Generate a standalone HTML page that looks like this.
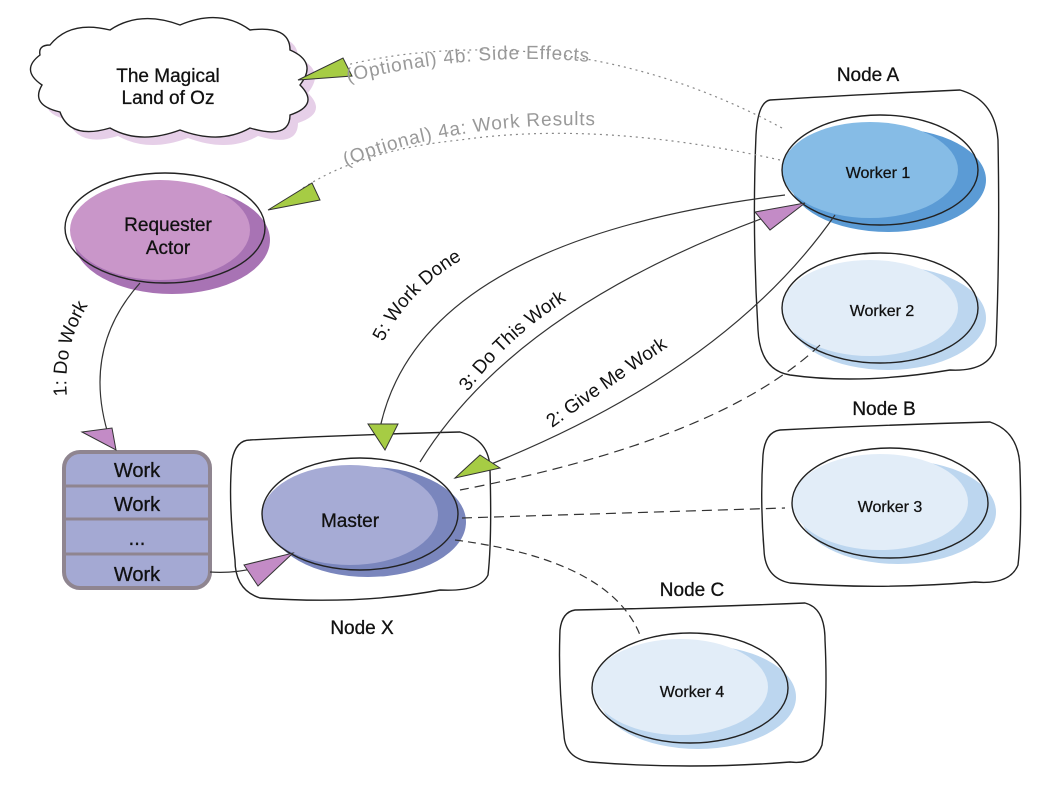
<!DOCTYPE html>
<html><head><meta charset="utf-8"><style>
html,body{margin:0;padding:0;background:#fff;width:1041px;height:792px;overflow:hidden}
svg{display:block}
text{font-family:"Liberation Sans",sans-serif}
</style></head><body>
<svg width="1041" height="792" viewBox="0 0 1041 792" xmlns="http://www.w3.org/2000/svg">
<defs>
<path id="p4b" d="M348,82 Q540,34 712,86"/>
<path id="p4a" d="M346,166 Q500,104 718,136"/>
<path id="p5" d="M383,342 Q420,270 505,240"/>
<path id="p3" d="M468,392 Q520,320 610,276"/>
<path id="p2" d="M552,428 Q630,372 705,322"/>
<path id="p1" d="M67,396 Q62,340 95,295"/>
</defs>

<!-- cloud -->
<path d="M50,45 Q70,20 110,30 Q140,10 180,25 Q220,8 250,30 Q290,25 290,50 Q318,62 300,85 Q320,105 290,115 Q290,140 250,128 Q220,145 180,130 Q140,145 110,128 Q70,140 60,112 Q30,105 42,85 Q20,70 40,55 Q38,45 50,45Z" fill="#e6cfe8" transform="translate(8,8)"/>
<path d="M50,45 Q70,20 110,30 Q140,10 180,25 Q220,8 250,30 Q290,25 290,50 Q318,62 300,85 Q320,105 290,115 Q290,140 250,128 Q220,145 180,130 Q140,145 110,128 Q70,140 60,112 Q30,105 42,85 Q20,70 40,55 Q38,45 50,45Z" fill="#fff" stroke="#222" stroke-width="1.4"/>
<text x="168" y="82" font-size="19" text-anchor="middle" fill="#111" stroke="#111" stroke-width="0.3">The Magical</text>
<text x="168" y="104" font-size="19" text-anchor="middle" fill="#111" stroke="#111" stroke-width="0.3">Land of Oz</text>

<!-- requester -->
<ellipse cx="172" cy="240" rx="98" ry="54" fill="#a873b4"/>
<ellipse cx="160" cy="230" rx="90" ry="50" fill="#c996c9"/>
<ellipse cx="165" cy="228" rx="100" ry="55" fill="none" stroke="#222" stroke-width="1.4"/>
<text x="168" y="231" font-size="19" text-anchor="middle" fill="#111" stroke="#111" stroke-width="0.3">Requester</text>
<text x="168" y="254" font-size="19" text-anchor="middle" fill="#111" stroke="#111" stroke-width="0.3">Actor</text>

<!-- work queue -->
<rect x="64" y="452" width="146" height="136" rx="16" fill="#a4a9d3" stroke="#8f8590" stroke-width="4"/>
<line x1="64" y1="486" x2="210" y2="486" stroke="#8f8590" stroke-width="3"/>
<line x1="64" y1="519" x2="210" y2="519" stroke="#8f8590" stroke-width="3"/>
<line x1="64" y1="554" x2="210" y2="554" stroke="#8f8590" stroke-width="3"/>
<g font-size="20" text-anchor="middle" fill="#111" stroke="#111" stroke-width="0.3">
<text x="137" y="477">Work</text><text x="137" y="511">Work</text><text x="137" y="545">...</text><text x="137" y="581">Work</text></g>

<!-- node boxes -->
<path d="M250,440 Q340,435 460,432 Q490,440 490,470 Q492,540 488,575 Q480,592 440,590 Q360,605 260,598 Q235,590 235,560 Q228,500 232,460 Q236,440 250,440Z" fill="none" stroke="#222" stroke-width="1.4"/>
<path d="M770,100 Q850,95 960,90 Q995,100 998,140 Q1000,250 996,345 Q990,372 950,370 Q860,385 790,375 Q760,370 758,330 Q752,230 756,135 Q758,102 770,100Z" fill="none" stroke="#222" stroke-width="1.4"/>
<path d="M780,430 Q880,425 990,422 Q1020,432 1020,470 Q1022,530 1018,565 Q1010,585 975,582 Q880,590 790,583 Q765,578 764,550 Q760,500 763,455 Q765,432 780,430Z" fill="none" stroke="#222" stroke-width="1.4"/>
<path d="M575,610 Q680,608 805,603 Q825,608 825,640 Q828,700 822,745 Q815,765 790,762 Q690,770 590,762 Q565,758 564,735 Q558,680 560,630 Q562,612 575,610Z" fill="none" stroke="#222" stroke-width="1.4"/>
<g font-size="19" text-anchor="middle" fill="#111" stroke="#111" stroke-width="0.3">
<text x="362" y="634">Node X</text><text x="868" y="81">Node A</text><text x="884" y="415">Node B</text><text x="692" y="596">Node C</text></g>

<!-- master -->
<ellipse cx="368" cy="522" rx="98" ry="55" fill="#7a86bd"/>
<ellipse cx="350" cy="515" rx="88" ry="50" fill="#a6abd5"/>
<ellipse cx="360" cy="514" rx="98" ry="56" fill="none" stroke="#222" stroke-width="1.4"/>
<text x="350" y="527" font-size="19" text-anchor="middle" fill="#111" stroke="#111" stroke-width="0.3">Master</text>

<!-- workers -->
<ellipse cx="888" cy="180" rx="98" ry="52" fill="#5b9bd5"/>
<ellipse cx="870" cy="170" rx="88" ry="48" fill="#86bce6"/>
<ellipse cx="880" cy="170" rx="98" ry="55" fill="none" stroke="#222" stroke-width="1.4"/>
<text x="878" y="178" font-size="16" text-anchor="middle" fill="#111" stroke="#111" stroke-width="0.25">Worker 1</text>

<ellipse cx="888" cy="318" rx="98" ry="52" fill="#bcd6ef"/>
<ellipse cx="870" cy="308" rx="88" ry="48" fill="#e2edf8"/>
<ellipse cx="880" cy="308" rx="98" ry="55" fill="none" stroke="#222" stroke-width="1.4"/>
<text x="882" y="316" font-size="16" text-anchor="middle" fill="#111" stroke="#111" stroke-width="0.25">Worker 2</text>

<ellipse cx="898" cy="512" rx="98" ry="52" fill="#bcd6ef"/>
<ellipse cx="880" cy="502" rx="88" ry="48" fill="#e2edf8"/>
<ellipse cx="890" cy="503" rx="98" ry="55" fill="none" stroke="#222" stroke-width="1.4"/>
<text x="890" y="512" font-size="16" text-anchor="middle" fill="#111" stroke="#111" stroke-width="0.25">Worker 3</text>

<ellipse cx="698" cy="697" rx="98" ry="52" fill="#bcd6ef"/>
<ellipse cx="680" cy="687" rx="88" ry="48" fill="#e2edf8"/>
<ellipse cx="690" cy="688" rx="98" ry="55" fill="none" stroke="#222" stroke-width="1.4"/>
<text x="692" y="697" font-size="16" text-anchor="middle" fill="#111" stroke="#111" stroke-width="0.25">Worker 4</text>

<!-- connectors -->
<g fill="none" stroke="#333" stroke-width="1.2">
<path d="M140,283 Q80,350 110,440"/>
<path d="M210,572 Q250,575 290,555"/>
<path d="M785,195 Q420,240 380,428"/>
<path d="M420,462 Q520,300 800,205"/>
<path d="M835,215 Q720,380 455,478"/>
<path d="M820,345 Q720,440 460,490" stroke-dasharray="10,6"/>
<path d="M462,518 L785,508" stroke-dasharray="10,6"/>
<path d="M455,540 Q610,560 640,635" stroke-dasharray="8,5"/>
<path d="M780,160 Q600,120 460,140 Q360,150 300,190" stroke="#888" stroke-dasharray="2,4"/>
<path d="M782,128 Q600,30 400,55 Q330,65 308,80" stroke="#888" stroke-dasharray="2,4"/>
</g>

<!-- arrowheads -->
<g stroke="#333" stroke-width="1">
<path d="M82,432 L112,428 L116,450Z" fill="#c38bc6"/>
<path d="M244,565 L293,553 L258,586Z" fill="#c38bc6"/>
<path d="M755,212 L805,203 L770,230Z" fill="#c38bc6"/>
<path d="M368,424 L398,424 L385,450Z" fill="#a6cc44"/>
<path d="M455,478 L480,455 L500,468Z" fill="#a6cc44"/>
<path d="M268,210 L312,183 L320,200Z" fill="#a6cc44"/>
<path d="M298,80 L343,58 L352,76Z" fill="#a6cc44"/>
</g>

<!-- labels -->
<g font-size="19" fill="#999" letter-spacing="0.8">
<text><textPath href="#p4b">(Optional) 4b: Side Effects</textPath></text>
<text><textPath href="#p4a">(Optional) 4a: Work Results</textPath></text>
</g>
<g font-size="19" fill="#111">
<text><textPath href="#p5">5: Work Done</textPath></text>
<text><textPath href="#p3">3: Do This Work</textPath></text>
<text><textPath href="#p2">2: Give Me Work</textPath></text>
<text><textPath href="#p1">1: Do Work</textPath></text>
</g>
</svg>
</body></html>
